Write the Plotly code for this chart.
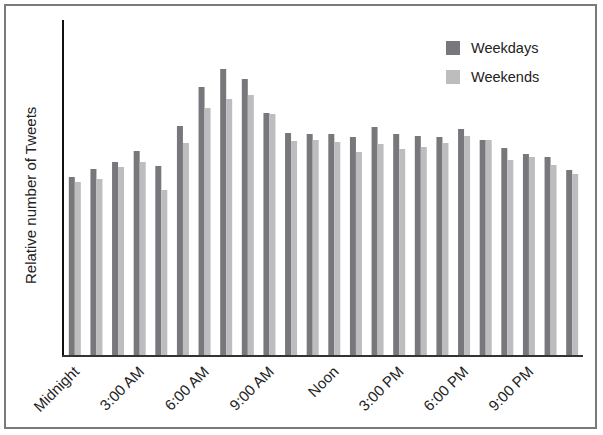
import plotly.graph_objects as go

hours = list(range(24))
weekdays = [178, 186, 193, 204, 189, 229, 268, 286, 276, 242, 222, 221,
            221, 218, 228, 221, 219, 218, 226, 215, 207, 201, 198, 185]
weekends = [173, 176, 188, 193, 165, 212, 247, 256, 260, 241, 214, 215,
            213, 203, 211, 206, 208, 212, 219, 215, 195, 198, 190, 181]
tick_hours = [0, 3, 6, 9, 12, 15, 18, 21]
tick_labels = ["Midnight", "3:00 AM", "6:00 AM", "9:00 AM", "Noon",
               "3:00 PM", "6:00 PM", "9:00 PM"]
series_names = ["Weekdays", "Weekends"]

C_WD = "#78787c"
C_WE = "#bdbdbf"
FONT = "Liberation Sans, Arial, Helvetica, sans-serif"

W, H = 603, 435
L, R, T, B = 64, 20, 20, 80
pw, ph = W - L - R, H - T - B


def px_x(x):
    return (x - L) / pw


def px_y(y):
    return 1 - (y - T) / ph


fig = go.Figure()
fig.add_trace(go.Bar(x=hours, y=weekdays, name=series_names[0],
                     marker=dict(color=C_WD, line=dict(width=0)), showlegend=False))
fig.add_trace(go.Bar(x=hours, y=weekends, name=series_names[1],
                     marker=dict(color=C_WE, line=dict(width=0)), showlegend=False))

shapes = [
    dict(type="rect", xref="paper", yref="paper",
         x0=px_x(5), x1=px_x(596), y0=px_y(5), y1=px_y(428),
         line=dict(color="#7a7a7a", width=2), fillcolor="rgba(0,0,0,0)", layer="below"),
]
annotations = []
for i, (nm, col) in enumerate(zip(series_names, [C_WD, C_WE])):
    cy = 48 + i * 29
    shapes.append(dict(type="rect", xref="paper", yref="paper",
                       x0=px_x(446), x1=px_x(460), y0=px_y(cy - 7), y1=px_y(cy + 7),
                       line=dict(width=0), fillcolor=col))
    annotations.append(dict(xref="paper", yref="paper", x=px_x(469), y=px_y(cy),
                            xanchor="left", yanchor="middle", text=nm, showarrow=False,
                            font=dict(family=FONT, size=14.5, color="#222")))

annotations.append(dict(xref="paper", yref="paper", x=px_x(30), y=px_y(196),
                        xanchor="center", yanchor="middle", textangle=-90,
                        text="Relative number of Tweets", showarrow=False,
                        font=dict(family=FONT, size=15, color="#222")))

fig.update_layout(
    width=W, height=H,
    margin=dict(l=L, r=R, t=T, b=B, autoexpand=False),
    paper_bgcolor="white", plot_bgcolor="white",
    barmode="group", bargap=0.445, bargroupgap=0,
    font=dict(family=FONT, size=14, color="#222"),
    shapes=shapes, annotations=annotations,
    xaxis=dict(range=[-0.5, 23.5], tickvals=tick_hours, ticktext=tick_labels,
               tickangle=-45, showgrid=False, zeroline=False, showline=True,
               linecolor="#333", linewidth=1.5, ticks="", ticklen=0, automargin=False,
               tickfont=dict(size=15, color="#222")),
    yaxis=dict(range=[0, 335], showticklabels=False, showgrid=False, zeroline=False,
               showline=True, linecolor="#111", linewidth=1.5, ticks="", automargin=False),
)

fig.write_html("out.html", config={"displayModeBar": False},
               post_script="document.body.style.margin='0';document.body.style.overflow='hidden';")
